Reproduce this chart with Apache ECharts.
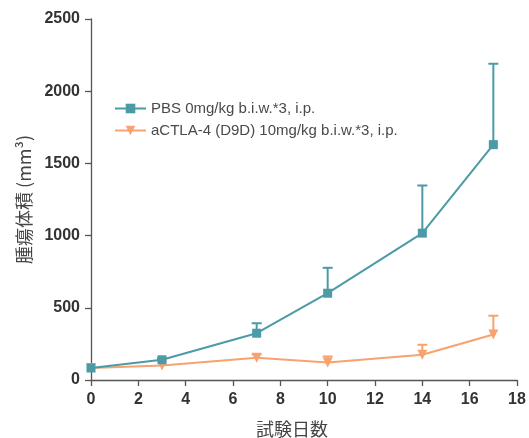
<!DOCTYPE html>
<html>
<head>
<meta charset="utf-8">
<script src="https://cdn.jsdelivr.net/npm/echarts@6/dist/echarts.min.js"></script>
<style>html,body{margin:0;padding:0;background:#fff}#c{width:529px;height:438px}</style>
</head>
<body>
<div id="c"></div>
<script>
const days = [0, 3, 7, 10, 14, 17];
const xTicks = [0, 2, 4, 6, 8, 10, 12, 14, 16, 18];
const yTicks = [0, 500, 1000, 1500, 2000, 2500];
const seriesNames = ['PBS 0mg/kg b.i.w.*3, i.p.', 'aCTLA-4 (D9D) 10mg/kg b.i.w.*3, i.p.'];
const pbsMean = [83, 140, 324, 601, 1017, 1630];
const pbsUpper = [83, 150, 393, 777, 1347, 2190];
const ctlaMean = [83, 100, 154, 121, 175, 315];
const ctlaUpper = [83, 100, 177, 163, 244, 445];
const colors = ['#4b9ba6', '#f7a26f'];

const chart = echarts.init(document.getElementById('c'));
function errSeries(mean, upper, color) {
  return {
    type: 'custom',
    silent: true,
    z: 1,
    data: days.map((d, i) => [d, mean[i], upper[i]]),
    renderItem: function (params, api) {
      const x = api.value(0);
      const p0 = api.coord([x, api.value(1)]);
      const p1 = api.coord([x, api.value(2)]);
      if (Math.abs(p0[1] - p1[1]) < 1) return null;
      const w = 5;
      return {
        type: 'group',
        children: [
          { type: 'line', shape: { x1: p0[0], y1: p0[1], x2: p1[0], y2: p1[1] }, style: { stroke: color, lineWidth: 2 } },
          { type: 'line', shape: { x1: p1[0] - w, y1: p1[1], x2: p1[0] + w, y2: p1[1] }, style: { stroke: color, lineWidth: 2 } }
        ]
      };
    }
  };
}
chart.setOption({
  animation: false,
  grid: { left: 91, right: 12, top: 19, bottom: 58, containLabel: false, outerBoundsMode: 'none' },
  legend: {
    orient: 'vertical', left: 109, top: 96, itemWidth: 31, itemHeight: 12, itemGap: 7,
    data: seriesNames,
    textStyle: { fontFamily: 'Liberation Sans, Arial', fontSize: 15, color: '#4a4a4a' }
  },
  xAxis: {
    type: 'value', min: 0, max: 18, interval: 2,
    name: '試験日数', nameLocation: 'middle', nameGap: 40,
    nameTextStyle: { fontFamily: 'Noto Sans CJK JP', fontSize: 18, color: '#444', padding: [0, 24, 0, 0] },
    axisLine: { show: true, lineStyle: { color: '#555', width: 1.3 } },
    axisTick: { show: true, length: 6, lineStyle: { color: '#555', width: 1.3 } },
    axisLabel: { fontFamily: 'Liberation Sans, Arial', fontWeight: 'bold', fontSize: 16, color: '#333', margin: 12,
      formatter: v => xTicks.includes(v) ? String(v) : '' },
    splitLine: { show: false }
  },
  yAxis: {
    type: 'value', min: 0, max: 2500, interval: 500,
    name: '腫瘍体積 (mm³)', nameLocation: 'middle', nameGap: 58, nameRotate: 90,
    nameTextStyle: { fontFamily: 'Noto Sans CJK JP', fontSize: 18, color: '#444' },
    axisLine: { show: true, lineStyle: { color: '#555', width: 1.3 } },
    axisTick: { show: true, length: 6, lineStyle: { color: '#555', width: 1.3 } },
    axisLabel: { fontFamily: 'Liberation Sans, Arial', fontWeight: 'bold', fontSize: 16, color: '#333', margin: 11,
      formatter: v => yTicks.includes(v) ? String(v) : '' },
    splitLine: { show: false }
  },
  series: [
    errSeries(pbsMean, pbsUpper, colors[0]),
    errSeries(ctlaMean, ctlaUpper, colors[1]),
    {
      name: seriesNames[0], type: 'line', z: 3,
      data: days.map((d, i) => [d, pbsMean[i]]),
      symbol: 'rect', symbolSize: 9,
      lineStyle: { color: colors[0], width: 2 },
      itemStyle: { color: colors[0] }
    },
    {
      name: seriesNames[1], type: 'line', z: 2,
      data: days.map((d, i) => [d, ctlaMean[i]]),
      symbol: 'triangle', symbolRotate: 180, symbolSize: 10,
      lineStyle: { color: colors[1], width: 2 },
      itemStyle: { color: colors[1] }
    }
  ]
});
</script>
</body>
</html>
